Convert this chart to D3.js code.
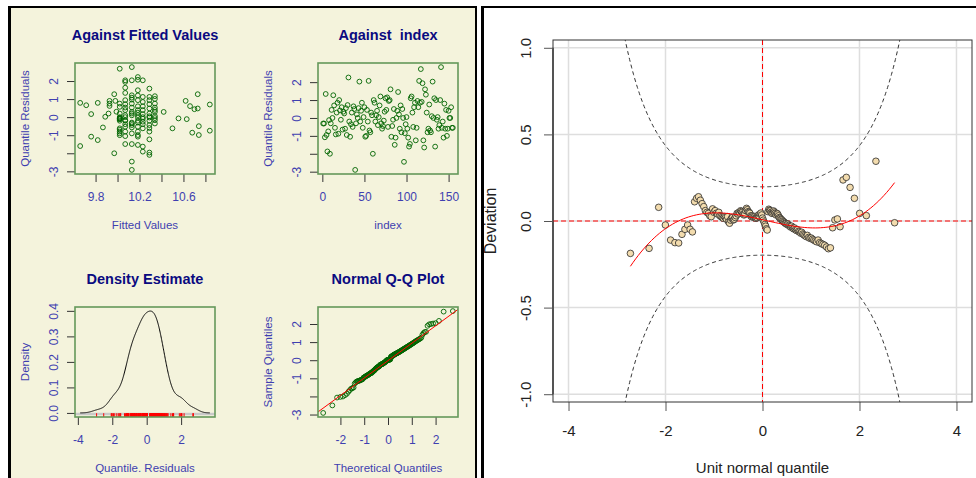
<!DOCTYPE html>
<html>
<head>
<meta charset="utf-8">
<script src="https://cdn.jsdelivr.net/npm/d3@7"></script>
<style>
html, body { margin: 0; padding: 0; background: #fff; }
svg { display: block; }
</style>
</head>
<body>
<svg id="viz"></svg>
<script>
var width = 976, height = 478;

// residuals in observation order (Against index)
var indexResid = [
  -0.31, -0.31, -1.08, 1.34, -0.95, -1.87, -0.75, -0.12, -2.0, -0.3,
  0.45, 0.0, 1.27, 0.7, -0.55, -0.92, 0.3, 0.85, -0.88, 1.0,
  0.42, -0.1, 0.6, -0.65, 0.35, 0.25, -0.6, 0.55, -0.95, 0.72,
  2.26, -0.2, -1.05, -0.35, 0.3, -0.5, 0.65, 0.5, -2.9, -0.3,
  0.2, 0.0, 0.55, 2.03, -0.2, 0.4, 0.85, -0.55, 0.05, 0.6,
  -1.05, -1.0, 0.45, -0.2, 2.07, -0.7, -0.8, 0.3, 0.15, -2.0,
  1.0, 0.85, -0.2, 0.15, 0.4, -0.4, 0.05, 0.7, 1.2, -0.3,
  -0.6, -0.45, -0.15, 0.35, 1.1, 0.45, 1.15, -0.5, 0.95, 1.0,
  1.6, -1.05, -0.45, -0.1, 0.5, -1.5, -1.1, 0.0, 0.4, 1.45,
  0.2, -0.6, 0.7, -0.8, 0.5, 0.0, -2.45, -0.85, -0.35, 0.05,
  -0.6, -1.1, -1.6, -1.45, 1.1, 1.2, 0.3, -0.5, 0.6, 0.85,
  -1.25, -0.55, 0.95, 0.6, 2.07, 0.85, 2.73, 0.9, 1.94, -1.25,
  -1.65, 1.6, 1.3, 0.3, -0.8, -0.6, 0.75, -0.7, -0.8, 0.1,
  2.03, 0.0, 1.1, -1.6, 1.0, -0.1, 0.05, -0.6, -0.4, 1.0,
  2.84, -0.55, -0.2, -1.1, 0.8, -0.6, 0.45, -1.0, -0.6, 0.4,
  0.0, 0.0, 0.6, -0.55, -0.55
];

// fitted value / residual pairs (Against Fitted Values)
var fittedVals = [
  9.66, 9.66, 9.715, 9.76, 9.76, 9.82, 9.82, 9.867, 9.888, 9.918, 9.927, 9.927, 9.927, 9.97, 9.97, 9.98, 9.99,
  10.02, 10.02, 10.02, 10.02, 10.02, 10.02, 10.02, 10.02, 10.02, 10.02, 10.02, 10.02, 10.02, 10.02, 10.02,
  10.07, 10.07, 10.07, 10.07, 10.07, 10.07, 10.07, 10.07, 10.07, 10.07, 10.07, 10.07, 10.07, 10.07, 10.07, 10.07, 10.07,
  10.13, 10.13, 10.13, 10.13, 10.13, 10.13, 10.13, 10.13, 10.13, 10.13, 10.13, 10.13, 10.13, 10.13, 10.13, 10.13, 10.13, 10.13,
  10.185, 10.185, 10.185, 10.185, 10.185, 10.185, 10.185, 10.185, 10.185, 10.185, 10.185, 10.185, 10.185, 10.185, 10.185, 10.185, 10.185,
  10.23, 10.23, 10.23, 10.23, 10.23, 10.23, 10.23, 10.23, 10.23, 10.23, 10.23, 10.23, 10.23,
  10.29, 10.29, 10.29, 10.29, 10.29, 10.29, 10.29, 10.29, 10.29, 10.29, 10.29, 10.29, 10.29, 10.29, 10.29,
  10.34, 10.34, 10.34, 10.34, 10.34, 10.34, 10.34, 10.34, 10.34, 10.34,
  10.42, 10.5, 10.555, 10.62, 10.63, 10.66, 10.68, 10.70, 10.73, 10.73, 10.74, 10.74, 10.84, 10.84
];
var fittedResid = [
  -1.6, 0.79, 0.66, 0.17, -1.08, 0.79, -1.27, -0.57, 0.02, 0.2, 0.9, 0.75, 0.62, -2.0, 1.27, 0.9, 0.3,
  2.68, 0.75, 0.57, 0.2, -0.07, -0.12, -0.2, -0.62, -0.7, -0.8, -0.9, -1.0, 0.0, -0.05, -0.1,
  2.04, 1.95, 1.63, 1.34, 0.94, 0.72, 0.53, 0.39, 0.11, -0.17, -0.39, -0.53, -0.8, -1.05, -1.49, -0.2, 0.0,
  2.77, 2.04, 1.21, 1.08, 0.97, 0.75, 0.53, 0.29, 0.2, -0.35, -0.44, -0.57, -0.9, -1.49, -2.46, -2.92, -0.3, 0.1,
  2.22, 2.07, 1.49, 1.2, 0.94, 0.6, 0.39, 0.11, -0.02, -0.2, -0.53, -0.8, -0.99, -1.08, -1.54, 0.25, -0.3,
  2.04, 1.12, 0.84, 0.6, 0.39, 0.17, -0.09, -0.39, -0.62, -1.63, -1.91, 0.0, -0.25,
  1.58, 1.12, 0.94, 0.72, 0.48, 0.2, -0.02, -0.2, -0.44, -0.8, -1.23, -1.96, -2.09, 0.05, -0.6,
  1.16, 1.01, 0.75, 0.53, 0.29, 0.06, -0.17, -0.35, -0.05, 0.4,
  0.29, -0.62, -0.07, 0.9, -0.11, 0.61, -0.86, 0.44, 1.27, 0.48, -0.99, -0.5, 0.7, -0.75
];

// worm plot deviations, in order of the unit normal quantile
var wormDev = [
  -0.187, -0.158, 0.079, -0.023, -0.11, -0.125, -0.127, -0.077, -0.048, -0.023,
  -0.048, -0.063, 0.111, 0.131, 0.14, 0.12, 0.10, 0.083, 0.06, 0.05,
  0.044, 0.03, 0.025, 0.07, 0.05, 0.06, 0.045, 0.04, 0.05, 0.03,
  0.025, 0.02, 0.016, 0.025, 0.02, 0.01, 0.025, -0.005, -0.013, 0.005,
  0.016, 0.02, 0.006, 0.01, 0.02, 0.03, 0.044, 0.04, 0.05, 0.045,
  0.059, 0.055, 0.05, 0.04, 0.035, 0.04, 0.06, 0.073, 0.065, 0.054,
  0.05, 0.045, 0.03, 0.025, 0.03, 0.025, 0.02, 0.025, 0.018, 0.016,
  0.02, 0.03, 0.035, 0.025, 0.04, 0.046, 0.035, 0.017, 0.005, -0.006,
  -0.02, -0.03, -0.045, -0.052, 0.054, 0.068, 0.062, 0.059, 0.05, 0.044,
  0.05, 0.058, 0.052, 0.045, 0.035, 0.044, 0.04, 0.03, 0.02, 0.016,
  0.01, 0.006, 0.0, -0.004, -0.008, -0.013, -0.015, -0.02, -0.018, -0.025,
  -0.03, -0.035, -0.03, -0.04, -0.045, -0.04, -0.05, -0.055, -0.05, -0.06,
  -0.063, -0.07, -0.065, -0.075, -0.08, -0.085, -0.09, -0.083, -0.095, -0.1,
  -0.098, -0.105, -0.11, -0.115, -0.12, -0.11, -0.125, -0.13, -0.135, -0.14,
  -0.15, -0.16, -0.155, -0.039, 0.006, 0.012, -0.033, 0.237, 0.252, 0.194,
  0.131, 0.044, 0.031, 0.345, -0.01
];

var resTicks = [-3, -2, -1, 0, 1, 2];
var resLabels = ["-3", "", "-1", "0", "1", "2"];
var fitTicks = [9.8, 10.0, 10.2, 10.4, 10.6, 10.8];
var fitLabels = ["9.8", "", "10.2", "", "10.6", ""];
var idxTicks = [0, 50, 100, 150];
var idxLabels = ["0", "50", "100", "150"];
var denXTicks = [-4, -2, 0, 2];
var denXLabels = ["-4", "-2", "0", "2"];
var denYTicks = [0, 0.1, 0.2, 0.3, 0.4];
var denYLabels = ["0.0", "0.1", "0.2", "0.3", "0.4"];
var qqXTicks = [-2, -1, 0, 1, 2];
var qqXLabels = ["-2", "-1", "0", "1", "2"];
var wormXTicks = [-4, -2, 0, 2, 4];
var wormYTicks = [-1, -0.5, 0, 0.5, 1];

var font = '"Liberation Sans", Arial, Helvetica, sans-serif';
var titleCol = "#0a0a80", labCol = "#3f3fb0", ptCol = "#006400", boxCol = "#64985a";

// --- small stats helpers
function dnorm(x) { return Math.exp(-x * x / 2) / Math.sqrt(2 * Math.PI); }
function upperTail(x) { // P(Z > |x|)
  var t = 1 / (1 + 0.2316419 * Math.abs(x));
  return dnorm(x) * t * (0.319381530 + t * (-0.356563782 + t * (1.781477937 + t * (-1.821255978 + t * 1.330274429))));
}
function qnorm(p) {
  var a = [-3.969683028665376e+01, 2.209460984245205e+02, -2.759285104469687e+02, 1.383577518672690e+02, -3.066479806614716e+01, 2.506628277459239e+00];
  var b = [-5.447609879822406e+01, 1.615858368580409e+02, -1.556989798598866e+02, 6.680131188771972e+01, -1.328068155288572e+01];
  var c = [-7.784894002430293e-03, -3.223964580411365e-01, -2.400758277161838e+00, -2.549732539343734e+00, 4.374664141464968e+00, 2.938163982698783e+00];
  var d = [7.784695709041462e-03, 3.224671290700398e-01, 2.445134137142996e+00, 3.754408661907416e+00];
  var q, r;
  if (p < 0.02425) {
    q = Math.sqrt(-2 * Math.log(p));
    return (((((c[0]*q+c[1])*q+c[2])*q+c[3])*q+c[4])*q+c[5]) / ((((d[0]*q+d[1])*q+d[2])*q+d[3])*q+1);
  }
  if (p > 1 - 0.02425) {
    q = Math.sqrt(-2 * Math.log(1 - p));
    return -(((((c[0]*q+c[1])*q+c[2])*q+c[3])*q+c[4])*q+c[5]) / ((((d[0]*q+d[1])*q+d[2])*q+d[3])*q+1);
  }
  q = p - 0.5; r = q * q;
  return (((((a[0]*r+a[1])*r+a[2])*r+a[3])*r+a[4])*r+a[5])*q / (((((b[0]*r+b[1])*r+b[2])*r+b[3])*r+b[4])*r+1);
}
function polyfit(xs, ys, deg) {
  var m = deg + 1, A = d3.range(m).map(function() { return new Array(m + 1).fill(0); });
  xs.forEach(function(xv, k) {
    for (var r = 0; r < m; r++) {
      for (var c = 0; c < m; c++) A[r][c] += Math.pow(xv, r + c);
      A[r][m] += Math.pow(xv, r) * ys[k];
    }
  });
  for (var i = 0; i < m; i++) {
    var p = i;
    for (var r = i + 1; r < m; r++) if (Math.abs(A[r][i]) > Math.abs(A[p][i])) p = r;
    var t = A[i]; A[i] = A[p]; A[p] = t;
    for (var r2 = 0; r2 < m; r2++) if (r2 !== i) {
      var f = A[r2][i] / A[i][i];
      for (var c2 = i; c2 <= m; c2++) A[r2][c2] -= f * A[i][c2];
    }
  }
  return A.map(function(row, i) { return row[m] / row[i]; });
}
function pad(ext) { var r = ext[1] - ext[0]; return [ext[0] - 0.04 * r, ext[1] + 0.04 * r]; }

// derived series
var n = wormDev.length;
var zq = d3.range(n).map(function(i) { return qnorm((i + 0.5) / n); });
var sortedRes = zq.map(function(z, i) { return z + wormDev[i]; });

var svg = d3.select("#viz").attr("width", width).attr("height", height)
  .style("font-family", font);

// panel backgrounds
svg.append("rect").attr("x", 8).attr("y", 6).attr("width", 469).attr("height", 480).attr("fill", "#000");
svg.append("rect").attr("x", 11).attr("y", 8).attr("width", 464).attr("height", 480).attr("fill", "#f4f3dc");
svg.append("rect").attr("x", 481).attr("y", 6).attr("width", 500).attr("height", 480).attr("fill", "#000");
svg.append("rect").attr("x", 484).attr("y", 8).attr("width", 500).attr("height", 480).attr("fill", "#fff");

var clipN = 0;
function mini(o) {
  var b = o.box;
  var x = d3.scaleLinear().domain(o.xd).range([b[0], b[2]]);
  var y = d3.scaleLinear().domain(o.yd).range([b[3], b[1]]);
  var g = svg.append("g");
  var ax = g.append("g").attr("transform", "translate(0," + b[3] + ")")
    .call(d3.axisBottom(x).tickValues(o.xt).tickSize(8).tickFormat(function(d, i) { return o.xl[i]; }));
  var ay = g.append("g").attr("transform", "translate(" + b[0] + ",0)")
    .call(d3.axisLeft(y).tickValues(o.yt).tickSize(8).tickFormat(function(d, i) { return o.yl[i]; }));
  [ax, ay].forEach(function(a) {
    a.select(".domain").remove();
    a.selectAll("line").attr("stroke", "#333");
    a.selectAll("text").attr("fill", labCol).style("font-size", "12px").style("font-family", font);
  });
  ax.selectAll("text").attr("y", 18).attr("dy", "0.71em");
  ay.selectAll("text").attr("x", 0).attr("y", -17.5).attr("dy", 0)
    .attr("text-anchor", "middle").attr("transform", "rotate(-90)");

  var id = "clip" + (clipN++);
  g.append("clipPath").attr("id", id).append("rect")
    .attr("x", b[0]).attr("y", b[1]).attr("width", b[2] - b[0]).attr("height", b[3] - b[1]);
  var content = g.append("g");
  var clipped = g.append("g").attr("clip-path", "url(#" + id + ")");
  g.append("rect").attr("x", b[0]).attr("y", b[1]).attr("width", b[2] - b[0]).attr("height", b[3] - b[1])
    .attr("fill", "none").attr("stroke", boxCol).attr("stroke-width", 1.6);

  g.append("text").attr("x", (b[0] + b[2]) / 2).attr("y", b[1] - 23)
    .attr("text-anchor", "middle").attr("fill", titleCol).style("font-size", "14.5px")
    .style("font-weight", "bold").style("white-space", "pre").text(o.title);
  g.append("text").attr("x", (b[0] + b[2]) / 2).attr("y", b[3] + 55)
    .attr("text-anchor", "middle").attr("fill", labCol).style("font-size", "11.5px").text(o.xlab);
  g.append("text").attr("transform", "translate(" + (b[0] - 46) + "," + ((b[1] + b[3]) / 2) + ") rotate(-90)")
    .attr("text-anchor", "middle").attr("fill", labCol).style("font-size", "11.5px").text(o.ylab);
  return { x: x, y: y, g: content, clip: clipped, box: b };
}

function greenPoints(p, xs, ys) {
  p.g.selectAll("circle").data(xs).enter().append("circle")
    .attr("cx", function(d) { return p.x(d); })
    .attr("cy", function(d, i) { return p.y(ys[i]); })
    .attr("r", 2.4).attr("fill", "none").attr("stroke", ptCol).attr("stroke-width", 0.9);
}

// 1. against fitted values
var p1 = mini({ box: [75, 63, 215, 174], xd: pad(d3.extent(fittedVals)), yd: pad(d3.extent(fittedResid)),
  xt: fitTicks, xl: fitLabels, yt: resTicks, yl: resLabels,
  title: "Against Fitted Values", xlab: "Fitted Values", ylab: "Quantile Residuals" });
greenPoints(p1, fittedVals, fittedResid);

// 2. against index
var idx = d3.range(1, indexResid.length + 1);
var p2 = mini({ box: [318, 63, 458, 174], xd: pad([1, indexResid.length]), yd: pad(d3.extent(indexResid)),
  xt: idxTicks, xl: idxLabels, yt: resTicks, yl: resLabels,
  title: "Against  index", xlab: "index", ylab: "Quantile Residuals" });
greenPoints(p2, idx, indexResid);

// 3. density estimate
var sorted = sortedRes.slice().sort(d3.ascending);
var iqr = d3.quantile(sorted, 0.75) - d3.quantile(sorted, 0.25);
var bw = 0.9 * Math.min(d3.deviation(sorted), iqr / 1.34) * Math.pow(n, -0.2);
var gx0 = sorted[0] - 3 * bw, gx1 = sorted[n - 1] + 3 * bw;
var dens = d3.range(512).map(function(k) {
  var xv = gx0 + (gx1 - gx0) * k / 511;
  var s = d3.sum(sorted, function(r) { return dnorm((xv - r) / bw); });
  return [xv, s / (n * bw)];
});
var p3 = mini({ box: [75, 307, 215, 417], xd: pad([gx0, gx1]), yd: pad([0, d3.max(dens, function(d) { return d[1]; })]),
  xt: denXTicks, xl: denXLabels, yt: denYTicks, yl: denYLabels,
  title: "Density Estimate", xlab: "Quantile. Residuals", ylab: "Density" });
p3.g.append("line").attr("x1", p3.box[0]).attr("x2", p3.box[2]).attr("y1", p3.y(0) + 1).attr("y2", p3.y(0) + 1)
  .attr("stroke", "#c9c9c9").attr("stroke-width", 2.5);
p3.g.append("path").datum(dens).attr("fill", "none").attr("stroke", "#000").attr("stroke-width", 1)
  .attr("d", d3.line().x(function(d) { return p3.x(d[0]); }).y(function(d) { return p3.y(d[1]); }));
p3.g.selectAll(".rug").data(sorted).enter().append("line")
  .attr("x1", function(d) { return p3.x(d); }).attr("x2", function(d) { return p3.x(d); })
  .attr("y1", p3.box[3]).attr("y2", p3.box[3] - 3.8).attr("stroke", "#ff0000").attr("stroke-width", 1);

// 4. normal Q-Q plot
var p4 = mini({ box: [318, 307, 458, 417], xd: pad(d3.extent(zq)), yd: pad(d3.extent(sortedRes)),
  xt: qqXTicks, xl: qqXLabels, yt: resTicks, yl: resLabels,
  title: "Normal Q-Q Plot", xlab: "Theoretical Quantiles", ylab: "Sample Quantiles" });
greenPoints(p4, zq, sortedRes);
var qy1 = d3.quantile(sorted, 0.25), qy3 = d3.quantile(sorted, 0.75);
var qx1 = qnorm(0.25), qx3 = qnorm(0.75);
var slope = (qy3 - qy1) / (qx3 - qx1), icpt = qy1 - slope * qx1;
var qd = p4.x.domain();
p4.clip.append("line").attr("x1", p4.x(qd[0])).attr("y1", p4.y(icpt + slope * qd[0]))
  .attr("x2", p4.x(qd[1])).attr("y2", p4.y(icpt + slope * qd[1]))
  .attr("stroke", "#ff0000").attr("stroke-width", 1);

// 5. worm plot
var wb = [553, 40, 972, 402];
var wx = d3.scaleLinear().domain([-4.32, 4.32]).range([wb[0], wb[2]]);
var wy = d3.scaleLinear().domain([-1.045, 1.045]).range([wb[3], wb[1]]);
var wg = svg.append("g");
wg.append("clipPath").attr("id", "wclip").append("rect")
  .attr("x", wb[0]).attr("y", wb[1]).attr("width", wb[2] - wb[0]).attr("height", wb[3] - wb[1]);

wg.selectAll(".gx").data(wormXTicks).enter().append("line")
  .attr("x1", function(d) { return wx(d); }).attr("x2", function(d) { return wx(d); })
  .attr("y1", wb[1]).attr("y2", wb[3]).attr("stroke", "#dedede").attr("stroke-width", 1.5);
wg.selectAll(".gy").data(wormYTicks).enter().append("line")
  .attr("y1", function(d) { return wy(d); }).attr("y2", function(d) { return wy(d); })
  .attr("x1", wb[0]).attr("x2", wb[2]).attr("stroke", "#dedede").attr("stroke-width", 1.5);

var wax = wg.append("g").attr("transform", "translate(0," + wb[3] + ")")
  .call(d3.axisBottom(wx).tickValues(wormXTicks).tickSize(9).tickFormat(function(d) { return String(d); }));
var way = wg.append("g").attr("transform", "translate(" + wb[0] + ",0)")
  .call(d3.axisLeft(wy).tickValues(wormYTicks).tickSize(9).tickFormat(function(d) { return d.toFixed(1); }));
[wax, way].forEach(function(a) {
  a.select(".domain").remove();
  a.selectAll("line").attr("stroke", "#555");
  a.selectAll("text").attr("fill", "#222").style("font-size", "15px").style("font-family", font);
});
wax.selectAll("text").attr("y", 23).attr("dy", "0.71em");
way.selectAll("text").attr("x", 0).attr("y", -22).attr("dy", 0)
  .attr("text-anchor", "middle").attr("transform", "rotate(-90)");
wg.append("line").attr("x1", wb[0]).attr("x2", wb[0]).attr("y1", wy(1)).attr("y2", wy(-1))
  .attr("stroke", "#777").attr("stroke-width", 2);

var wc = wg.append("g").attr("clip-path", "url(#wclip)");
var bandZ = d3.range(-4.32, 4.33, 0.02);
var band = bandZ.map(function(z) {
  var q = upperTail(z);
  return [z, 1.96 * Math.sqrt(q * (1 - q) / n) / dnorm(z)];
});
[1, -1].forEach(function(sgn) {
  wc.append("path").datum(band).attr("fill", "none").attr("stroke", "#333").attr("stroke-width", 1)
    .attr("stroke-dasharray", "4,3")
    .attr("d", d3.line().x(function(d) { return wx(d[0]); }).y(function(d) { return wy(sgn * d[1]); }));
});
wc.append("line").attr("x1", wb[0]).attr("x2", wb[2]).attr("y1", wy(0)).attr("y2", wy(0))
  .attr("stroke", "#ff0000").attr("stroke-dasharray", "5,3");
wc.append("line").attr("x1", wx(0)).attr("x2", wx(0)).attr("y1", wb[1]).attr("y2", wb[3])
  .attr("stroke", "#ff0000").attr("stroke-dasharray", "5,3");

wc.selectAll("circle").data(wormDev).enter().append("circle")
  .attr("cx", function(d, i) { return wx(zq[i]); }).attr("cy", function(d) { return wy(d); })
  .attr("r", 3.3).attr("fill", "#f3dcae").attr("stroke", "#2a2a2a").attr("stroke-width", 0.8);

var coef = polyfit(zq, wormDev, 3);
var fitZ = d3.range(101).map(function(k) { return zq[0] + (zq[n - 1] - zq[0]) * k / 100; });
wc.append("path").datum(fitZ).attr("fill", "none").attr("stroke", "#ff0000").attr("stroke-width", 1)
  .attr("d", d3.line().x(function(z) { return wx(z); })
    .y(function(z) { return wy(coef[0] + coef[1] * z + coef[2] * z * z + coef[3] * z * z * z); }));

wg.append("rect").attr("x", wb[0]).attr("y", wb[1]).attr("width", wb[2] - wb[0]).attr("height", wb[3] - wb[1])
  .attr("fill", "none").attr("stroke", "#333").attr("stroke-width", 1);

wg.append("text").attr("x", (wb[0] + wb[2]) / 2).attr("y", 473)
  .attr("text-anchor", "middle").attr("fill", "#222").style("font-size", "15px").text("Unit normal quantile");
wg.append("text").attr("transform", "translate(496," + ((wb[1] + wb[3]) / 2) + ") rotate(-90)")
  .attr("text-anchor", "middle").attr("fill", "#222").style("font-size", "16px").text("Deviation");

// redraw the divider edge over the clipped label
svg.append("rect").attr("x", 481).attr("y", 6).attr("width", 3).attr("height", 480).attr("fill", "#000");
</script>
</body>
</html>
